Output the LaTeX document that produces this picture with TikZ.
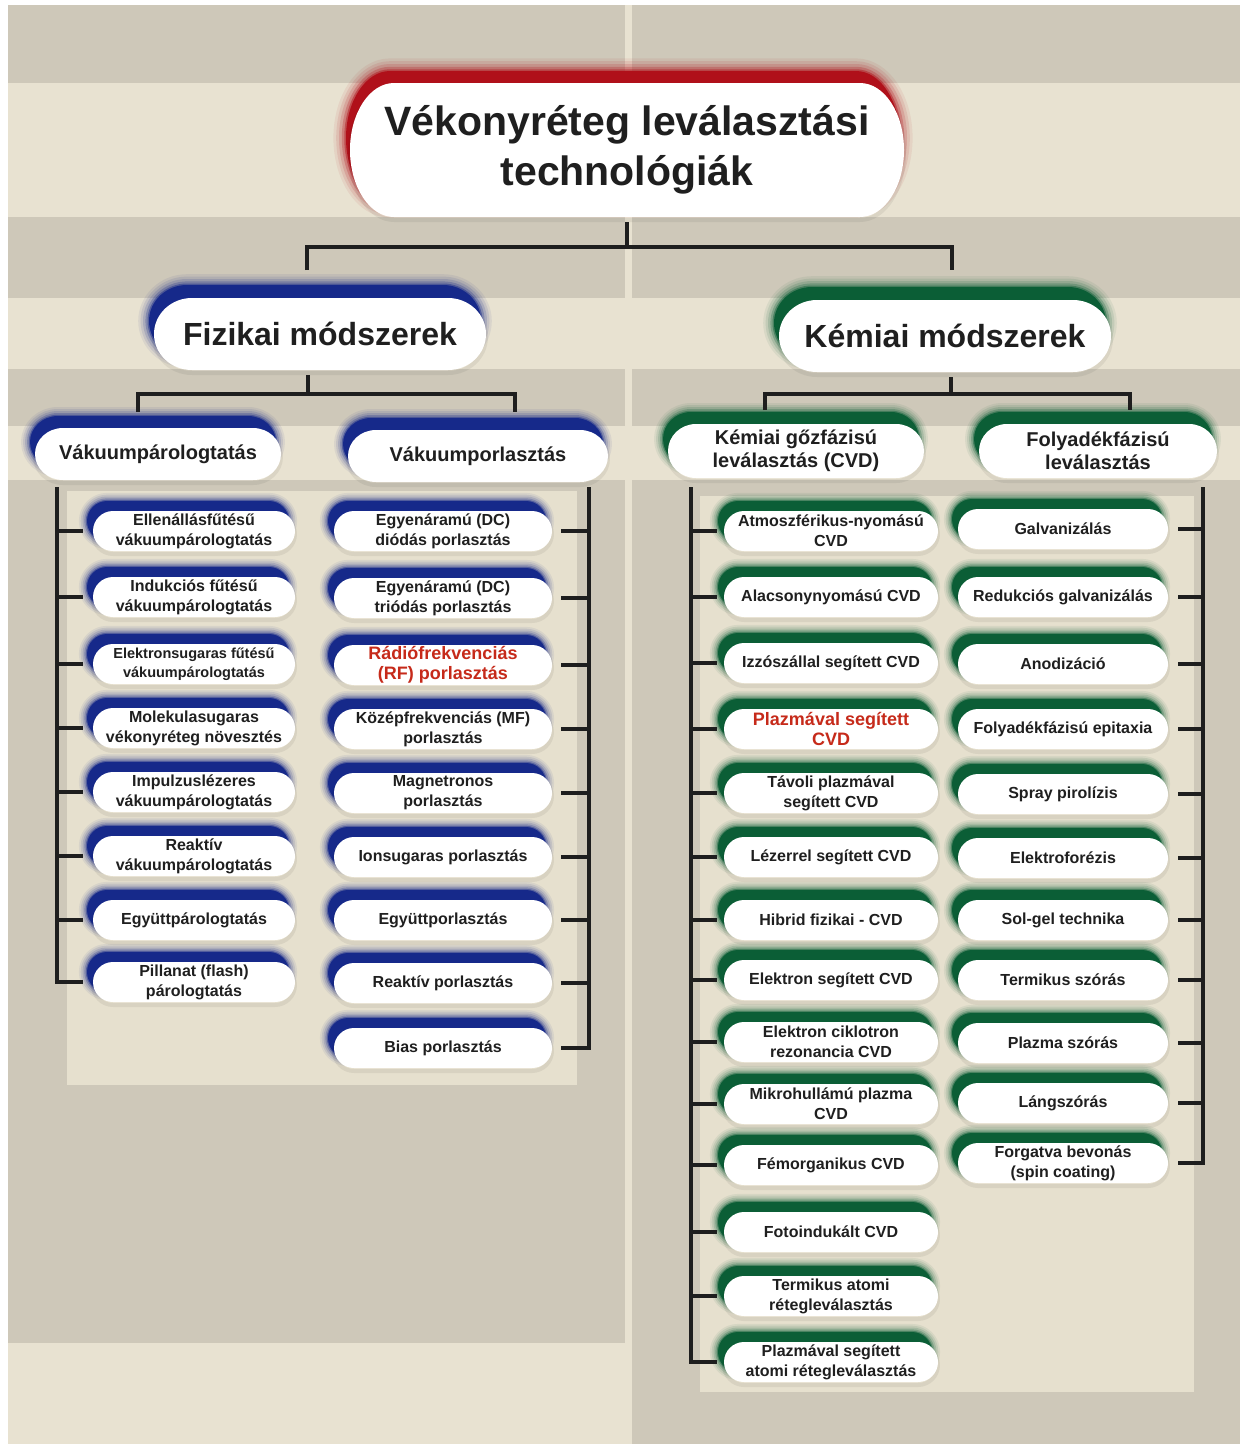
\documentclass[tikz,border=0pt]{standalone}
\usepackage{fontspec}
\setmainfont{Liberation Sans}
\usetikzlibrary{calc}
\pgfdeclarelayer{bands}
\pgfdeclarelayer{shad}
\pgfdeclarelayer{white}
\pgfsetlayers{bands,shad,white,main}
\definecolor{bandD}{HTML}{CEC8B9}
\definecolor{bandL}{HTML}{E8E2D1}
\definecolor{panelc}{HTML}{E6E0CE}
\definecolor{blu}{HTML}{16298A}
\definecolor{grn}{HTML}{0B5E36}
\definecolor{rd}{HTML}{B0101A}
\definecolor{txt}{HTML}{1F1F1F}
\definecolor{rtxt}{HTML}{C62A1A}
\definecolor{lin}{HTML}{1E1E1E}
\tikzset{
  pillp/.style n args={5}{insert path={(#1-#3+#5,#2-#4) -- (#1+#3-#5,#2-#4) arc[start angle=90,end angle=-90,x radius=#5pt,y radius=#4pt] -- (#1-#3+#5,#2+#4) arc[start angle=270,end angle=90,x radius=#5pt,y radius=#4pt] -- cycle}},
  tbase/.style={text=txt,align=center,inner sep=0pt},
  t1/.style={tbase,font=\fontsize{41}{50}\selectfont\bfseries},
  t2/.style={tbase,font=\fontsize{32}{38}\selectfont\bfseries},
  t3/.style={tbase,font=\fontsize{20}{23}\selectfont\bfseries},
  t4/.style={tbase,font=\fontsize{16}{20}\selectfont\bfseries},
  t4s/.style={tbase,font=\fontsize{14.5}{19}\selectfont\bfseries},
  t4r/.style={tbase,text=rtxt,font=\fontsize{18}{20}\selectfont\bfseries},
  conn/.style={draw=lin,line width=4.5pt},
}
\def\pilldx{-5}\def\pilldy{10}\def\pillbw{10}
\newcommand\pill[9]{%
  \begin{pgfonlayer}{shad}
    \begin{scope}[xshift=\pilldx pt,yshift=\pilldy pt]
      \path[draw=#7,draw opacity=.07,line width=1.8*\pillbw pt,line join=round,pillp={#2}{#3}{#4}{#5}{#6}];
      \path[draw=#7,draw opacity=.10,line width=1.4*\pillbw pt,line join=round,pillp={#2}{#3}{#4}{#5}{#6}];
      \path[draw=#7,draw opacity=.15,line width=1.0*\pillbw pt,line join=round,pillp={#2}{#3}{#4}{#5}{#6}];
      \path[draw=#7,draw opacity=.25,line width=0.6*\pillbw pt,line join=round,pillp={#2}{#3}{#4}{#5}{#6}];
      \path[draw=#7,draw opacity=.45,line width=0.25*\pillbw pt,line join=round,fill=#7,pillp={#2}{#3}{#4}{#5}{#6}];
    \end{scope}
    \begin{scope}[yshift=-3pt]
      \path[draw=black,draw opacity=.06,line width=4pt,pillp={#2}{#3}{#4}{#5}{#6}];
    \end{scope}
  \end{pgfonlayer}
  \begin{pgfonlayer}{white}
    \path[fill=white,pillp={#2}{#3}{#4}{#5}{#6}];
  \end{pgfonlayer}
  \node[#8,minimum width=2*#4pt,minimum height=2*#5pt] (#1) at (#2,#3) {#9};
}
\begin{document}
\begin{tikzpicture}[x=1pt,y=-1pt]
\useasboundingbox (0,0) rectangle (1240,1444);
\begin{pgfonlayer}{bands}
  \fill[white] (0,0) rectangle (1240,1444);
  \fill[bandD] (8,5) rectangle (625,1444);
  \fill[bandD] (632,5) rectangle (1240,1444);
  \fill[bandL] (625,5) rectangle (632,1444);
  \fill[bandL] (8,83) rectangle (1240,217);
  \fill[bandL] (8,298) rectangle (1240,369);
  \fill[bandL] (8,426) rectangle (1240,480);
  \fill[bandL] (8,1343) rectangle (625,1444);
  \fill[panelc] (67,491) rectangle (577,1085);
  \fill[panelc] (700,496) rectangle (1194,1392);
\end{pgfonlayer}

% title
\def\pilldx{-4}\def\pilldy{12}\def\pillbw{14}
\pill{title}{627}{150}{277}{67}{44}{rd}{t1}{Vékonyréteg leválasztási\\technológiák}
% level 2
\def\pilldx{-5}\def\pilldy{13}\def\pillbw{12}
\pill{fiz}{320}{334}{166}{36}{38}{blu}{t2}{Fizikai módszerek}
\pill{kem}{945}{336}{166}{36}{38}{grn}{t2}{Kémiai módszerek}
% level 3
\def\pilldx{-5}\def\pilldy{12}\def\pillbw{10}
\pill{vp}{158}{454}{123}{26}{28}{blu}{t3}{Vákuumpárologtatás}
\pill{vpo}{478}{456}{130}{26}{28}{blu}{t3}{Vákuumporlasztás}
\pill{cvd}{796}{451}{128}{27}{28}{grn}{t3}{Kémiai gőzfázisú\\leválasztás (CVD)}
\pill{fol}{1098}{451}{119}{27}{28}{grn}{t3}{Folyadékfázisú\\leválasztás}
% items
\def\pilldx{-6}\def\pilldy{10}\def\pillbw{9}
\pill{L1}{194}{531}{101}{20}{20}{blu}{t4}{Ellenállásfűtésű\\vákuumpárologtatás}
\pill{L2}{194}{597}{101}{20}{20}{blu}{t4}{Indukciós fűtésű\\vákuumpárologtatás}
\pill{L3}{194}{664}{101}{20}{20}{blu}{t4s}{Elektronsugaras fűtésű\\vákuumpárologtatás}
\pill{L4}{194}{728}{101}{20}{20}{blu}{t4}{Molekulasugaras\\vékonyréteg növesztés}
\pill{L5}{194}{792}{101}{20}{20}{blu}{t4}{Impulzuslézeres\\vákuumpárologtatás}
\pill{L6}{194}{856}{101}{20}{20}{blu}{t4}{Reaktív\\vákuumpárologtatás}
\pill{L7}{194}{920}{101}{20}{20}{blu}{t4}{Együttpárologtatás}
\pill{L8}{194}{982}{101}{20}{20}{blu}{t4}{Pillanat (flash)\\párologtatás}

\pill{R1}{443}{531}{109}{20}{20}{blu}{t4}{Egyenáramú (DC)\\diódás porlasztás}
\pill{R2}{443}{598}{109}{20}{20}{blu}{t4}{Egyenáramú (DC)\\triódás porlasztás}
\pill{R3}{443}{665}{109}{20}{20}{blu}{t4r}{Rádiófrekvenciás\\(RF) porlasztás}
\pill{R4}{443}{729}{109}{20}{20}{blu}{t4}{Középfrekvenciás (MF)\\porlasztás}
\pill{R5}{443}{793}{109}{20}{20}{blu}{t4}{Magnetronos\\porlasztás}
\pill{R6}{443}{857}{109}{20}{20}{blu}{t4}{Ionsugaras porlasztás}
\pill{R7}{443}{920}{109}{20}{20}{blu}{t4}{Együttporlasztás}
\pill{R8}{443}{983}{109}{20}{20}{blu}{t4}{Reaktív porlasztás}
\pill{R9}{443}{1048}{109}{20}{20}{blu}{t4}{Bias porlasztás}

\pill{C1}{831}{531}{107}{20}{20}{grn}{t4}{Atmoszférikus-nyomású\\CVD}
\pill{C2}{831}{597}{107}{20}{20}{grn}{t4}{Alacsonynyomású CVD}
\pill{C3}{831}{663}{107}{20}{20}{grn}{t4}{Izzószállal segített CVD}
\pill{C4}{831}{729}{107}{20}{20}{grn}{t4r}{Plazmával segített\\CVD}
\pill{C5}{831}{793}{107}{20}{20}{grn}{t4}{Távoli plazmával\\segített CVD}
\pill{C6}{831}{857}{107}{20}{20}{grn}{t4}{Lézerrel segített CVD}
\pill{C7}{831}{920}{107}{20}{20}{grn}{t4}{Hibrid fizikai - CVD}
\pill{C8}{831}{980}{107}{20}{20}{grn}{t4}{Elektron segített CVD}
\pill{C9}{831}{1042}{107}{20}{20}{grn}{t4}{Elektron ciklotron\\rezonancia CVD}
\pill{C10}{831}{1104}{107}{20}{20}{grn}{t4}{Mikrohullámú plazma\\CVD}
\pill{C11}{831}{1165}{107}{20}{20}{grn}{t4}{Fémorganikus CVD}
\pill{C12}{831}{1232}{107}{20}{20}{grn}{t4}{Fotoindukált CVD}
\pill{C13}{831}{1296}{107}{20}{20}{grn}{t4}{Termikus atomi\\rétegleválasztás}
\pill{C14}{831}{1362}{107}{20}{20}{grn}{t4}{Plazmával segített\\atomi rétegleválasztás}

\pill{F1}{1063}{529}{105}{20}{20}{grn}{t4}{Galvanizálás}
\pill{F2}{1063}{597}{105}{20}{20}{grn}{t4}{Redukciós galvanizálás}
\pill{F3}{1063}{664}{105}{20}{20}{grn}{t4}{Anodizáció}
\pill{F4}{1063}{729}{105}{20}{20}{grn}{t4}{Folyadékfázisú epitaxia}
\pill{F5}{1063}{794}{105}{20}{20}{grn}{t4}{Spray pirolízis}
\pill{F6}{1063}{858}{105}{20}{20}{grn}{t4}{Elektroforézis}
\pill{F7}{1063}{920}{105}{20}{20}{grn}{t4}{Sol-gel technika}
\pill{F8}{1063}{980}{105}{20}{20}{grn}{t4}{Termikus szórás}
\pill{F9}{1063}{1043}{105}{20}{20}{grn}{t4}{Plazma szórás}
\pill{F10}{1063}{1103}{105}{20}{20}{grn}{t4}{Lángszórás}
\pill{F11}{1063}{1163}{105}{20}{20}{grn}{t4}{Forgatva bevonás\\(spin coating)}

% connectors
\coordinate (j0) at (627,247);
\coordinate (jF) at (307,270);
\coordinate (jK) at (952,270);
\draw[conn,line width=4pt,shorten <=5pt] (title.south) -- (j0);
\draw[conn,line width=4pt] (jF) |- (j0) -| (jK);

\coordinate (j1) at (308,394);
\coordinate (j1a) at (138,412);
\coordinate (j1b) at (515,412);
\draw[conn,line width=4pt,shorten <=5pt] (fiz.south -| j1) -- (j1);
\draw[conn,line width=4pt] (j1a) |- (j1) -| (j1b);

\coordinate (j2) at (951,394);
\coordinate (j2a) at (765,410);
\coordinate (j2b) at (1130,410);
\draw[conn,line width=4pt,shorten <=5pt] (kem.south -| j2) -- (j2);
\draw[conn,line width=4pt] (j2a) |- (j2) -| (j2b);

\coordinate (bL) at (57,487);
\draw[conn,shorten >=10pt] (bL) |- (L8.west);
\foreach \n in {L1,L2,L3,L4,L5,L6,L7} \draw[conn,shorten >=10pt] (bL |- \n.west) -- (\n.west);

\coordinate (bR) at (589,487);
\draw[conn,shorten >=9pt] (bR) |- (R9.east);
\foreach \n in {R1,R2,R3,R4,R5,R6,R7,R8} \draw[conn,shorten >=9pt] (bR |- \n.east) -- (\n.east);

\coordinate (bC) at (691,487);
\draw[conn,shorten >=7pt] (bC) |- (C14.west);
\foreach \n in {C1,C2,C3,C4,C5,C6,C7,C8,C9,C10,C11,C12,C13} \draw[conn,shorten >=7pt] (bC |- \n.west) -- (\n.west);

\coordinate (bF) at (1203,487);
\draw[conn,shorten >=10pt] (bF) |- (F11.east);
\foreach \n in {F1,F2,F3,F4,F5,F6,F7,F8,F9,F10} \draw[conn,shorten >=10pt] (bF |- \n.east) -- (\n.east);
\end{tikzpicture}
\end{document}
